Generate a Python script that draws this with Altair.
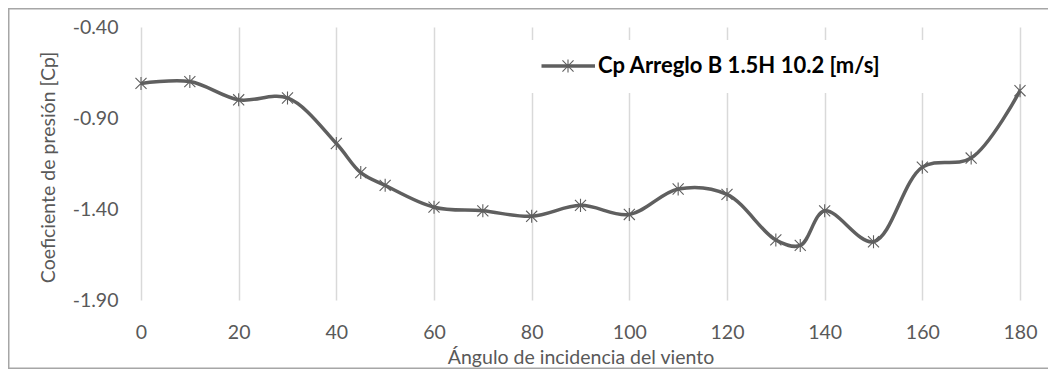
import altair as alt
import pandas as pd

# ---- data ----
angulos = [0, 10, 20, 30, 40, 45, 50, 60, 70, 80, 90, 100, 110, 120, 130, 135, 140, 150, 160, 170, 180]
cp_vals = [-0.71, -0.70, -0.80, -0.79, -1.04, -1.20, -1.27, -1.39, -1.41, -1.44, -1.38, -1.43,
           -1.29, -1.32, -1.57, -1.60, -1.41, -1.58, -1.17, -1.12, -0.75]
x_ticks = [0, 20, 40, 60, 80, 100, 120, 140, 160, 180]
y_ticks = [-1.90, -1.40, -0.90, -0.40]
serie = "Cp Arreglo B 1.5H 10.2 [m/s]"
x_title = "Ángulo de incidencia del viento"
y_title = "Coeficiente de presión [Cp]"

df = pd.DataFrame({"angulo": angulos, "cp": cp_vals})
leg_df = pd.DataFrame({"label": [serie]})
one = pd.DataFrame({"k": [0]})

GRAY = "#5f5f5f"
TXT = "#595959"
FONT = "Lato"
ASTER = "M-0.85,-0.85L0.85,0.85M-0.85,0.85L0.85,-0.85M0,-1L0,1"

W, H = 879, 273

x_enc = alt.X(
    "angulo:Q",
    scale=alt.Scale(domain=[0, 180], nice=False, zero=False),
    axis=alt.Axis(
        values=x_ticks, title=x_title, grid=True, gridColor="#d9d9d9", gridWidth=1.5,
        domain=False, ticks=False, labelPadding=23, labelFont=FONT, labelFontSize=19.5,
        labelColor=TXT, labelFlush=False, labelOverlap=False,
        titleFont=FONT, titleFontSize=19.5, titleFontWeight="normal", titleColor=TXT,
        titleX=W / 2, titleY=63, titleBaseline="alphabetic", titleAlign="center",
    ),
)
y_enc = alt.Y(
    "cp:Q",
    scale=alt.Scale(domain=[-1.9, -0.4], nice=False, zero=False),
    axis=alt.Axis(
        values=y_ticks, grid=False, domain=False, ticks=False,
        labelExpr="'-' + format(abs(datum.value), '.2f')",
        labelPadding=23, labelFont=FONT, labelFontSize=19.5, labelColor=TXT,
        labelOverlap=False, labelFlush=False,
        title=y_title, titleFont=FONT, titleFontSize=19.5, titleFontWeight="normal",
        titleColor=TXT, titleAngle=270, titleX=-87, titleY=140,
        titleAlign="center", titleBaseline="alphabetic",
    ),
)

line = alt.Chart(df).mark_line(interpolate="catmull-rom", color=GRAY, strokeWidth=3.5).encode(
    x=x_enc, y=y_enc
)
pts = alt.Chart(df).mark_point(
    shape=ASTER, size=170, filled=False, stroke=GRAY, strokeWidth=1.1, opacity=1
).encode(x="angulo:Q", y="cp:Q")

border = alt.Chart(one).mark_rect(fill="transparent", stroke="#a6a6a6", strokeWidth=1.5).encode(
    x=alt.value(-132.25), x2=alt.value(930), y=alt.value(-18.25), y2=alt.value(341.2)
)

leg_box = alt.Chart(one).mark_rect(fill="white", stroke="white", strokeWidth=0).encode(
    x=alt.value(379), x2=alt.value(795), y=alt.value(13), y2=alt.value(66)
)
leg_line = alt.Chart(one).mark_rule(color=GRAY, strokeWidth=3.5).encode(
    x=alt.value(400.5), x2=alt.value(454), y=alt.value(39)
)
leg_pt = alt.Chart(one).mark_point(
    shape=ASTER, size=170, filled=False, stroke=GRAY, strokeWidth=1.1, opacity=1
).encode(x=alt.value(427), y=alt.value(39))
leg_txt = alt.Chart(leg_df).mark_text(
    align="left", baseline="alphabetic", font=FONT, fontWeight="bold", fontSize=22, color="black"
).encode(x=alt.value(457), y=alt.value(46), text="label:N")

chart = alt.layer(border, line, pts, leg_box, leg_line, leg_pt, leg_txt).properties(
    width=W, height=H,
    autosize=alt.AutoSizeParams(type="none"),
    padding={"left": 133, "top": 19, "right": 28, "bottom": 69},
    background="white",
).configure_view(strokeWidth=0)

chart.save("out.html", embed_options={"renderer": "svg", "actions": False})
